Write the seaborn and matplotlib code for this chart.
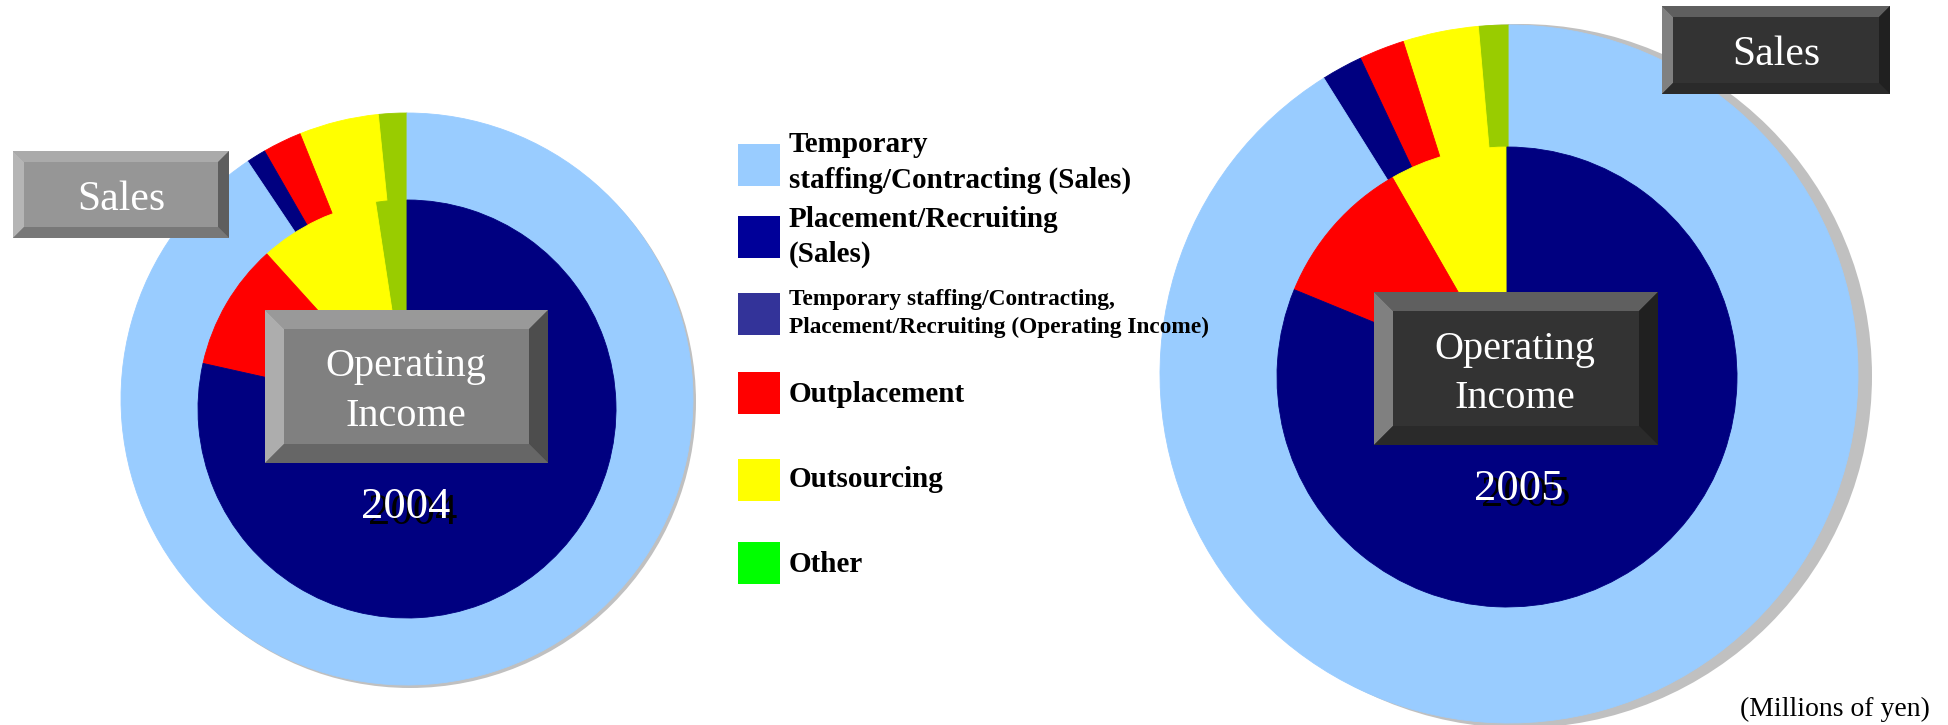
import matplotlib
matplotlib.use("Agg")
import matplotlib.pyplot as plt
from matplotlib.patches import Polygon, Circle, Rectangle
import seaborn as sns

# shares of each ring (%), going counter-clockwise from 12 o'clock
sales_segments = ["Other", "Outsourcing", "Outplacement", "Placement/Recruiting",
                  "Temporary staffing/Contracting"]
sales_2004 = [1.6, 4.5, 2.2, 1.1, 90.6]
sales_2005 = [1.4, 3.5, 2.1, 1.9, 91.1]

oi_segments = ["Other", "Outsourcing", "Outplacement",
               "Temporary staffing/Contracting, Placement/Recruiting"]
oi_2004 = [2.4, 9.3, 9.8, 78.5]
oi_2005 = [0.1, 8.2, 10.5, 81.2]

years = ["2004", "2005"]

sales_colors = ["#99CC00", "#FFFF00", "#FF0000", "#000080", "#99CCFF"]
oi_colors = ["#99CC00", "#FFFF00", "#FF0000", "#000080"]

legend_labels = [
    ["Temporary", "staffing/Contracting (Sales)"],
    ["Placement/Recruiting", "(Sales)"],
    ["Temporary staffing/Contracting,", "Placement/Recruiting (Operating Income)"],
    ["Outplacement"],
    ["Outsourcing"],
    ["Other"],
]
legend_colors = ["#99CCFF", "#000099", "#333399", "#FF0000", "#FFFF00", "#00FF00"]

W, H = 1948, 725
SERIF = ["Liberation Serif", "DejaVu Serif"]

sns.set_theme(style="white")
plt.rcParams["font.family"] = SERIF

fig = plt.figure(figsize=(W / 100, H / 100), dpi=100)
ax = fig.add_axes([0, 0, 1, 1])


def ring_chart(sales, oi, c_out, r_out, c_in, r_in, shadow_c, shadow_r):
    ax.add_patch(Circle(shadow_c, shadow_r, color="#C0C0C0", lw=0, zorder=0.5))
    # y axis is inverted below, so start at -90 and go clockwise in data space
    for vals, cols, c, r in [(sales, sales_colors, c_out, r_out),
                             (oi, oi_colors, c_in, r_in)]:
        wedges, _ = ax.pie(vals, colors=cols, startangle=-90, counterclock=False,
                           center=c, radius=r, wedgeprops=dict(linewidth=0))
        for w in wedges:
            w.set_edgecolor(w.get_facecolor())
            w.set_linewidth(0.6)


def bevel_box(x0, y0, x1, y1, b, face, top, left, bottom, right):
    ax.add_patch(Rectangle((x0, y0), x1 - x0, y1 - y0, color=face, lw=0, zorder=5))
    ax.add_patch(Polygon([(x0, y0), (x1, y0), (x1 - b, y0 + b), (x0 + b, y0 + b)],
                         color=top, lw=0, zorder=5))
    ax.add_patch(Polygon([(x0, y0), (x0 + b, y0 + b), (x0 + b, y1 - b), (x0, y1)],
                         color=left, lw=0, zorder=5))
    ax.add_patch(Polygon([(x0, y1), (x0 + b, y1 - b), (x1 - b, y1 - b), (x1, y1)],
                         color=bottom, lw=0, zorder=5))
    ax.add_patch(Polygon([(x1, y0), (x1, y1), (x1 - b, y1 - b), (x1 - b, y0 + b)],
                         color=right, lw=0, zorder=5))


# 2004
ring_chart(sales_2004, oi_2004, (407, 399), 286, (407, 409), 209, (410, 402), 286)
# 2005
ring_chart(sales_2005, oi_2005, (1509, 374), 349, (1507, 377), 230, (1520, 376), 352)

ax.set_xlim(0, W)
ax.set_ylim(H, 0)
ax.set_aspect("equal")
ax.axis("off")

# buttons
light = dict(face="#969696", top="#AAAAAA", left="#B5B5B5", bottom="#787878", right="#5E5E5E")
mid = dict(face="#808080", top="#999999", left="#ADADAD", bottom="#666666", right="#4D4D4D")
dark = dict(face="#333333", top="#5F5F5F", left="#808080", bottom="#2A2A2A", right="#202020")

bevel_box(13, 151, 229, 238, 11, **light)
bevel_box(265, 310, 548, 463, 19, **mid)
bevel_box(1662, 6, 1890, 94, 11, **dark)
bevel_box(1374, 292, 1658, 445, 19, **dark)

txt = dict(color="white", ha="center", va="baseline", zorder=6, family=SERIF)
ax.text(121, 210, "Sales", fontsize=30, **txt)
ax.text(1776, 65, "Sales", fontsize=30, **txt)
ax.text(406, 376, "Operating", fontsize=29, **txt)
ax.text(406, 426, "Income", fontsize=29, **txt)
ax.text(1515, 359, "Operating", fontsize=29, **txt)
ax.text(1515, 408, "Income", fontsize=29, **txt)

# year labels with drop shadow
for yr, (x, y) in zip(years, [(406, 518), (1519, 500)]):
    ax.text(x + 7, y + 6, yr, fontsize=32, color="black", ha="center", va="baseline",
            zorder=6, family=SERIF)
    ax.text(x, y, yr, fontsize=32, color="white", ha="center", va="baseline",
            zorder=7, family=SERIF)

# legend
sw_tops = [144, 216, 293, 372, 459, 542]
baselines = [[152, 188], [227, 262], [305, 333], [402], [487], [572]]
sizes = [21, 21, 16.8, 21, 21, 21]
for lines, col, top, bls, fs in zip(legend_labels, legend_colors, sw_tops, baselines, sizes):
    ax.add_patch(Rectangle((738, top), 42, 42, color=col, lw=0, zorder=5))
    for line, bl in zip(lines, bls):
        ax.text(789, bl, line, fontsize=fs, fontweight="bold", color="black",
                ha="left", va="baseline", zorder=6, family=SERIF)

ax.text(1930, 716, "(Millions of yen)", fontsize=20, color="black",
        ha="right", va="baseline", zorder=6, family=SERIF)

fig.savefig("out.png", dpi=100, facecolor="white")
